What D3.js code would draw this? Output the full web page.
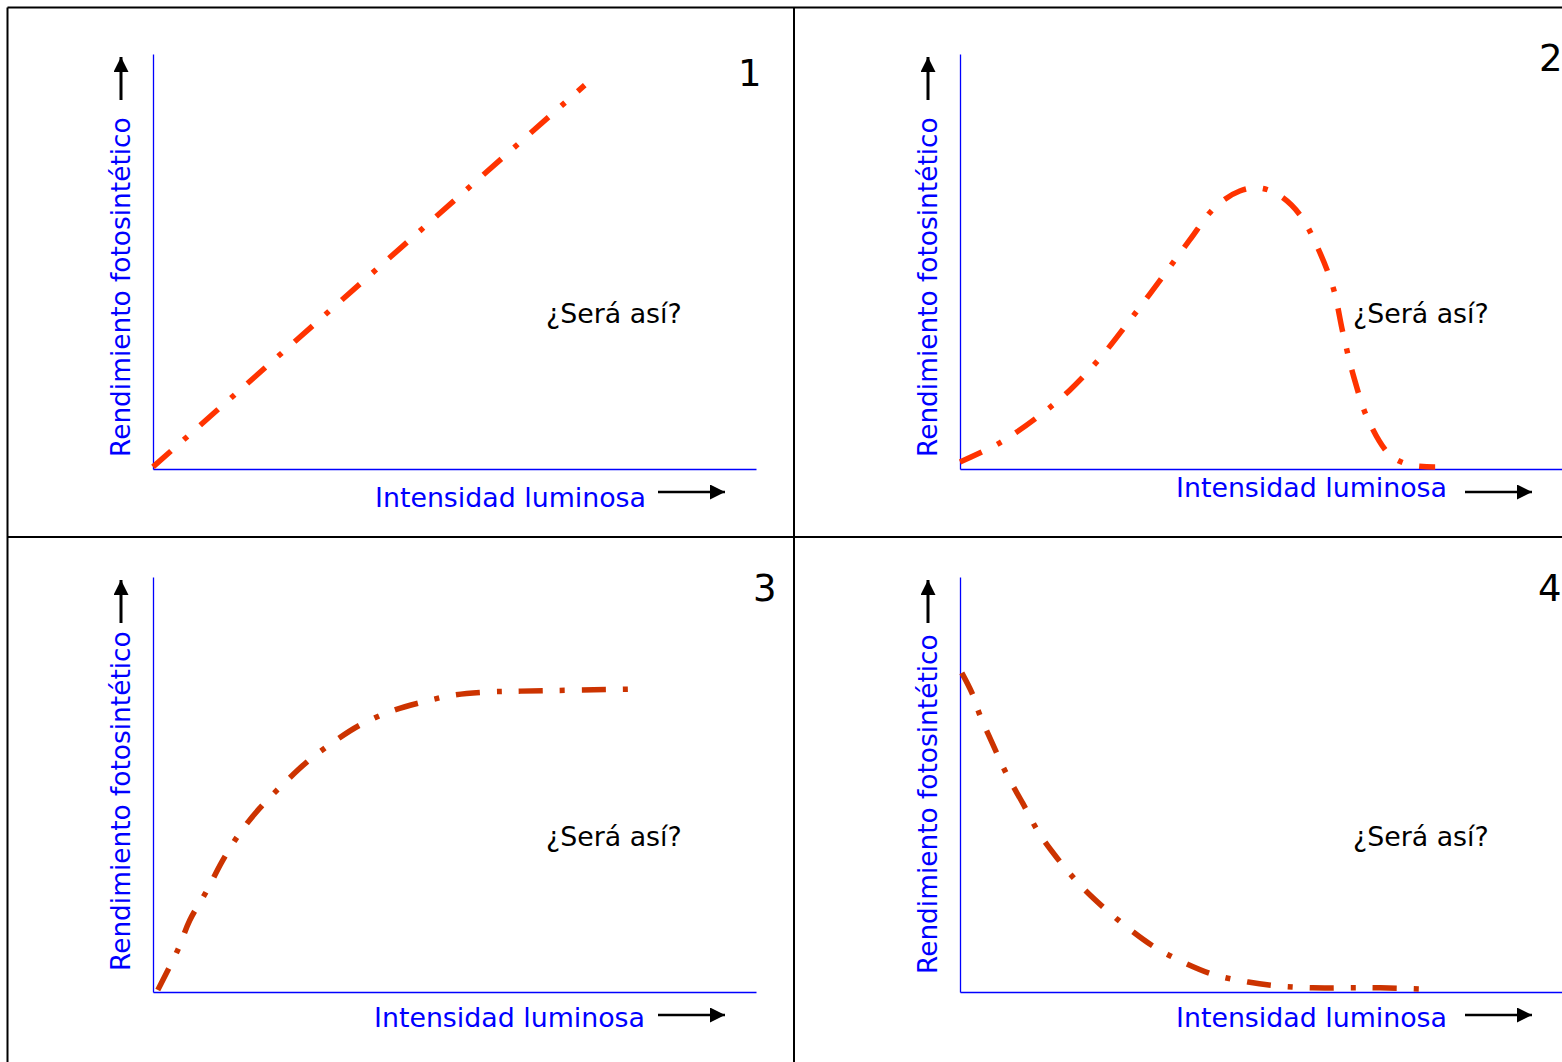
<!DOCTYPE html>
<html>
<head>
<meta charset="utf-8">
<script src="https://cdn.jsdelivr.net/npm/d3@7"></script>
<style>
  html, body { margin: 0; padding: 0; background: #fff; overflow: hidden; }
  svg { display: block; }
</style>
</head>
<body>
<svg id="chart" width="1562" height="1062"></svg>
<script>
// ---- data (x: intensidad 0-100, y: rendimiento 0-100) ----
const panelNumbers = ["1", "2", "3", "4"];
const xLabel = "Intensidad luminosa";
const yLabel = "Rendimiento fotosintético";
const question = "¿Será así?";

const curve1X = [0, 71.6];
const curve1Y = [0.5, 92.5];

const curve2X = [0, 6.6, 13.3, 18.2, 23.2, 28.2, 33.2, 38.1, 42.3, 46.4, 49.8, 53.1, 56.4, 59.2, 61.9, 63.5, 65.3, 67.7, 71.3, 74.6, 78.8];
const curve2Y = [1.7, 6.3, 13.0, 19.0, 26.7, 35.9, 45.5, 55.2, 63.1, 67.0, 67.7, 65.8, 61.2, 53.7, 43.6, 32.8, 22.2, 11.8, 3.4, 1.0, 0.5];

const curve3X = [0.8, 4.1, 6.1, 9.0, 11.4, 14.4, 17.7, 21.6, 25.5, 29.9, 34.3, 39.6, 44.8, 50.1, 55.6, 61.0, 80.2];
const curve3Y = [0.5, 10.1, 17.3, 24.6, 31.3, 38.3, 44.3, 50.1, 55.4, 60.2, 64.3, 67.7, 69.9, 71.6, 72.3, 72.5, 73.0];

const curve4X = [0.3, 2.0, 3.3, 5.5, 7.8, 10.4, 13.1, 16.1, 19.9, 23.7, 27.9, 32.3, 37.3, 42.3, 47.8, 53.1, 58.5, 64.2, 69.7, 77.0];
const curve4Y = [76.9, 72.0, 66.7, 59.5, 52.3, 45.5, 38.3, 32.3, 25.8, 20.5, 15.4, 10.8, 7.0, 4.1, 2.4, 1.4, 1.0, 1.0, 1.0, 0.7];

const curvesX = [curve1X, curve2X, curve3X, curve4X];
const curvesY = [curve1Y, curve2Y, curve3Y, curve4Y];

// ---- layout ----
const panels = [
  {ox: 153, oy: 469, color: "#FF3300", xlab: [222, 38], ylab: -12, num: [585, -383]},
  {ox: 960, oy: 469, color: "#FF3300", xlab: [216, 28], ylab: -12, num: [579, -398]},
  {ox: 153, oy: 992, color: "#CC3300", xlab: [221, 35], ylab: -21, num: [600, -391]},
  {ox: 960, oy: 992, color: "#CC3300", xlab: [216, 35], ylab: -18, num: [578, -391]}
];
const W = 603, H = 415;
const FONT = "'DejaVu Sans', Verdana, sans-serif";
const FS = 26.8;
const FSY = 26.4;
const BLUE = "#0000FF";

const svg = d3.select("#chart");

// frame
const frame = svg.append("g").attr("stroke", "#000").attr("stroke-width", 2).attr("fill", "none");
frame.append("line").attr("x1", 7.5).attr("y1", 7.5).attr("x2", 1562).attr("y2", 7.5);
frame.append("line").attr("x1", 7.5).attr("y1", 7.5).attr("x2", 7.5).attr("y2", 1062);
frame.append("line").attr("x1", 794).attr("y1", 7.5).attr("x2", 794).attr("y2", 1062);
frame.append("line").attr("x1", 7.5).attr("y1", 537).attr("x2", 1562).attr("y2", 537);

// arrow marker
const defs = svg.append("defs");
defs.append("marker")
  .attr("id", "arr").attr("viewBox", "0 0 16 16")
  .attr("refX", 16).attr("refY", 8)
  .attr("markerWidth", 16).attr("markerHeight", 15)
  .attr("markerUnits", "userSpaceOnUse")
  .attr("orient", "auto")
  .append("path").attr("d", "M0,0 L16,8 L0,16 Z").attr("fill", "#000");

panels.forEach((p, i) => {
  const x = d3.scaleLinear().domain([0, 100]).range([p.ox, p.ox + W]);
  const y = d3.scaleLinear().domain([0, 100]).range([p.oy, p.oy - H]);
  const g = svg.append("g");

  // axes (domain lines only)
  const gx = g.append("g").attr("transform", `translate(0,${p.oy})`)
    .call(d3.axisBottom(x).ticks(0).tickSize(0).tickSizeOuter(0));
  const gy = g.append("g").attr("transform", `translate(${p.ox},0)`)
    .call(d3.axisLeft(y).ticks(0).tickSize(0).tickSizeOuter(0));
  [gx, gy].forEach(a => {
    a.select(".domain").attr("stroke", BLUE).attr("stroke-width", 1.3);
    a.selectAll("text").remove();
  });

  // curve
  const pts = curvesX[i].map((v, k) => [v, curvesY[i][k]]);
  const line = d3.line().x(d => x(d[0])).y(d => y(d[1]))
    .curve(pts.length > 2 ? d3.curveCatmullRom.alpha(0.5) : d3.curveLinear);
  g.append("path").datum(pts).attr("d", line)
    .attr("fill", "none").attr("stroke", p.color)
    .attr("stroke-width", 5.5)
    .attr("stroke-dasharray", "24,17,5,17");

  // question
  g.append("text").attr("x", p.ox + 393).attr("y", p.oy - 146)
    .attr("font-family", FONT).attr("font-size", FS).attr("fill", "#000")
    .text(question);

  // x label
  g.append("text").attr("x", p.ox + p.xlab[0]).attr("y", p.oy + p.xlab[1])
    .attr("font-family", FONT).attr("font-size", FS).attr("fill", BLUE)
    .text(xLabel);
  // x arrow
  g.append("line").attr("x1", p.ox + 505).attr("y1", p.oy + 23)
    .attr("x2", p.ox + 572).attr("y2", p.oy + 23)
    .attr("stroke", "#000").attr("stroke-width", 2.5)
    .attr("marker-end", "url(#arr)");

  // y label
  g.append("text")
    .attr("transform", `translate(${p.ox - 23.5},${p.oy + p.ylab}) rotate(-90)`)
    .attr("font-family", FONT).attr("font-size", FSY).attr("fill", BLUE)
    .text(yLabel);
  // y arrow
  g.append("line").attr("x1", p.ox - 32).attr("y1", p.oy - 369)
    .attr("x2", p.ox - 32).attr("y2", p.oy - 412)
    .attr("stroke", "#000").attr("stroke-width", 3)
    .attr("marker-end", "url(#arr)");

  // panel number
  g.append("text").attr("x", p.ox + p.num[0]).attr("y", p.oy + p.num[1])
    .attr("font-family", FONT).attr("font-size", 37).attr("fill", "#000")
    .text(panelNumbers[i]);
});
</script>
</body>
</html>
